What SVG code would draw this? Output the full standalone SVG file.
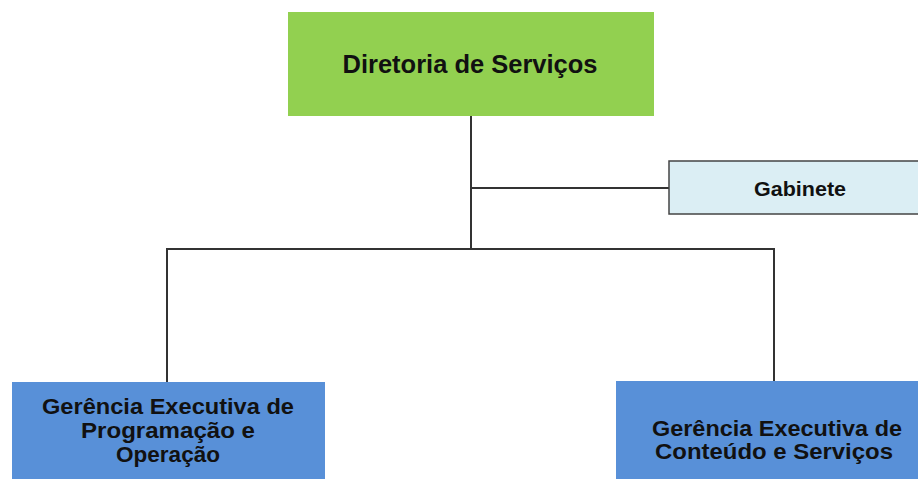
<svg xmlns="http://www.w3.org/2000/svg" width="918" height="479" viewBox="0 0 918 479">
<style>
text{font-family:"Liberation Sans",Arial,sans-serif;font-weight:bold;fill:#111;text-anchor:middle}
.conn{stroke:#333;stroke-width:2;fill:none}
.blue{fill:#5890d8}
</style>
<rect width="918" height="479" fill="#fff"/>
<g id="connectors">
<path class="conn" d="M471 116 V249"/>
<path class="conn" d="M471 188 H669"/>
<path class="conn" d="M167 249 H774"/>
<path class="conn" d="M167 248 V382"/>
<path class="conn" d="M774 248 V381"/>
</g>
<g id="diretoria">
<rect x="288" y="12" width="366" height="104" fill="#92d050"/>
<text x="470" y="73" font-size="25" textLength="255" lengthAdjust="spacingAndGlyphs">Diretoria de Serviços</text>
</g>
<g id="gabinete">
<rect x="669" y="161" width="250" height="53" fill="#dbeef4" stroke="#444" stroke-width="1.5"/>
<text x="800" y="195.5" font-size="21" textLength="92" lengthAdjust="spacingAndGlyphs">Gabinete</text>
</g>
<g id="gerencia-programacao">
<rect class="blue" x="12" y="382" width="313" height="100"/>
<text x="168" y="414" font-size="22" textLength="252" lengthAdjust="spacingAndGlyphs">Gerência Executiva de</text>
<text x="168" y="438" font-size="22" textLength="174" lengthAdjust="spacingAndGlyphs">Programação e</text>
<text x="168" y="462" font-size="22" textLength="104" lengthAdjust="spacingAndGlyphs">Operação</text>
</g>
<g id="gerencia-conteudo">
<rect class="blue" x="616" y="381" width="305" height="100"/>
<text x="777" y="436" font-size="22" textLength="250" lengthAdjust="spacingAndGlyphs">Gerência Executiva de</text>
<text x="774" y="459" font-size="22" textLength="238" lengthAdjust="spacingAndGlyphs">Conteúdo e Serviços</text>
</g>
</svg>
